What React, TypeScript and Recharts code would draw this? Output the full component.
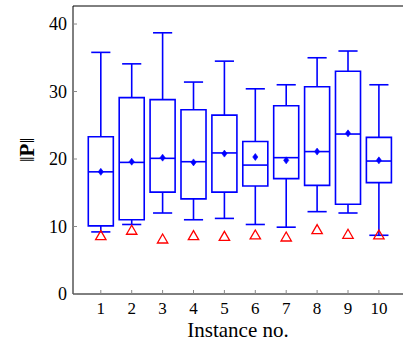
import React from 'react';
import { ComposedChart, XAxis, YAxis, Scatter, ReferenceArea, ReferenceLine } from 'recharts';

const instances = [1, 2, 3, 4, 5, 6, 7, 8, 9, 10];
const whiskerLow = [9.2, 10.3, 12.0, 11.0, 11.2, 10.3, 9.9, 12.2, 12.0, 8.7];
const q1 = [10.1, 11.0, 15.1, 14.1, 15.1, 16.0, 17.1, 16.1, 13.3, 16.5];
const medians = [18.1, 19.5, 20.1, 19.6, 20.9, 19.1, 20.2, 21.1, 23.7, 19.7];
const q3 = [23.3, 29.1, 28.8, 27.3, 26.5, 22.6, 27.9, 30.7, 33.0, 23.2];
const whiskerHigh = [35.8, 34.1, 38.7, 31.4, 34.5, 30.4, 31.0, 35.0, 36.0, 31.0];
const means = [18.1, 19.6, 20.2, 19.5, 20.8, 20.3, 19.8, 21.1, 23.8, 19.8];
const lowerBound = [8.5, 9.3, 8.0, 8.5, 8.4, 8.6, 8.3, 9.4, 8.7, 8.6];
const yTicks = [0, 10, 20, 30, 40];

const xDomain = [0.1, 10.78];
const yDomain = [0, 42.67];
const BLUE = '#0000ff';
const FONT = 'Liberation Serif, DejaVu Serif, serif';
const BOX_HALF = 0.405;
const CAP_HALF = 0.31;

const meanData = instances.map((x, i) => ({ x, y: means[i] }));
const boundData = instances.map((x, i) => ({ x, y: lowerBound[i] }));

const Diamond = (props: any) => {
  const { cx, cy } = props;
  return (
    <polygon
      points={`${cx},${cy - 3.5} ${cx + 2.6},${cy} ${cx},${cy + 3.5} ${cx - 2.6},${cy}`}
      fill={BLUE}
      stroke={BLUE}
      strokeWidth={0.6}
    />
  );
};

const Triangle = (props: any) => {
  const { cx, cy } = props;
  return (
    <polygon
      points={`${cx},${cy - 6} ${cx + 5.2},${cy + 3} ${cx - 5.2},${cy + 3}`}
      fill="none"
      stroke="#ff0000"
      strokeWidth={1.3}
    />
  );
};

const YLabel = (props: any) => {
  const { viewBox } = props;
  const cx = viewBox.x + 27;
  const cy = viewBox.y + viewBox.height / 2;
  return (
    <text
      x={cx}
      y={cy}
      transform={`rotate(-90 ${cx} ${cy})`}
      textAnchor="middle"
      dominantBaseline="central"
      style={{ fontFamily: FONT, fontSize: 21 }}
      fill="#000"
    >
      <tspan>‖</tspan>
      <tspan fontWeight="bold">P</tspan>
      <tspan>‖</tspan>
    </text>
  );
};

export default function App() {
  const lineStyle = { stroke: BLUE, strokeWidth: 1.6, ifOverflow: 'visible' as const };
  return (
    <div style={{ position: 'absolute', left: 0, top: 0, background: '#fff', fontFamily: FONT }}>
      <ComposedChart
        width={403}
        height={341}
        margin={{ top: 5, right: 0, bottom: 0, left: 0 }}
        style={{ fontFamily: FONT }}
      >
        <XAxis
          dataKey="x"
          type="number"
          domain={xDomain}
          ticks={instances}
          interval={0}
          allowDataOverflow
          height={47}
          tickSize={-4}
          tickMargin={12}
          axisLine={{ stroke: '#000' }}
          tickLine={{ stroke: '#888' }}
          tick={{ fill: '#000', fontSize: 17, style: { fontFamily: FONT } }}
          label={{ value: 'Instance no.', position: 'insideBottom', offset: 4, fill: '#000', fontSize: 21, style: { fontFamily: FONT } }}
        />
        <XAxis
          xAxisId="top"
          orientation="top"
          type="number"
          domain={xDomain}
          ticks={instances}
          interval={0}
          allowDataOverflow
          height={1}
          tickSize={-4}
          tickFormatter={() => ''}
          axisLine={{ stroke: '#000' }}
          tickLine={{ stroke: '#888' }}
        />
        <YAxis
          dataKey="y"
          type="number"
          domain={yDomain}
          ticks={yTicks}
          interval={0}
          allowDataOverflow
          width={73}
          tickSize={-4}
          tickMargin={10}
          axisLine={{ stroke: '#000' }}
          tickLine={{ stroke: '#888' }}
          tick={{ fill: '#000', fontSize: 18, style: { fontFamily: FONT } }}
          label={<YLabel />}
        />
        <YAxis
          yAxisId="right"
          orientation="right"
          type="number"
          domain={yDomain}
          ticks={yTicks}
          interval={0}
          allowDataOverflow
          width={0}
          tickSize={-4}
          tickFormatter={() => ''}
          axisLine={{ stroke: '#000' }}
          tickLine={{ stroke: '#888' }}
        />
        {instances.map((x, i) => (
          <ReferenceArea
            key={`box-${x}`}
            x1={x - BOX_HALF}
            x2={x + BOX_HALF}
            y1={q1[i]}
            y2={q3[i]}
            fill="none"
            fillOpacity={0}
            stroke={BLUE}
            strokeWidth={1.6}
            ifOverflow="visible"
          />
        ))}
        {instances.map((x, i) => (
          <ReferenceLine key={`med-${x}`} segment={[{ x: x - BOX_HALF, y: medians[i] }, { x: x + BOX_HALF, y: medians[i] }]} {...lineStyle} />
        ))}
        {instances.map((x, i) => (
          <ReferenceLine key={`wh-${x}`} segment={[{ x, y: q3[i] }, { x, y: whiskerHigh[i] }]} {...lineStyle} />
        ))}
        {instances.map((x, i) => (
          <ReferenceLine key={`wl-${x}`} segment={[{ x, y: whiskerLow[i] }, { x, y: q1[i] }]} {...lineStyle} />
        ))}
        {instances.map((x, i) => (
          <ReferenceLine key={`ch-${x}`} segment={[{ x: x - CAP_HALF, y: whiskerHigh[i] }, { x: x + CAP_HALF, y: whiskerHigh[i] }]} {...lineStyle} />
        ))}
        {instances.map((x, i) => (
          <ReferenceLine key={`cl-${x}`} segment={[{ x: x - CAP_HALF, y: whiskerLow[i] }, { x: x + CAP_HALF, y: whiskerLow[i] }]} {...lineStyle} />
        ))}
        <Scatter data={meanData} dataKey="y" shape={<Diamond />} isAnimationActive={false} />
        <Scatter data={boundData} dataKey="y" shape={<Triangle />} isAnimationActive={false} />
      </ComposedChart>
    </div>
  );
}
